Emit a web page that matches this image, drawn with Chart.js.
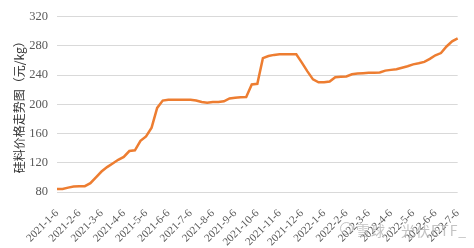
<!DOCTYPE html>
<html>
<head>
<meta charset="utf-8">
<script src="https://cdn.jsdelivr.net/npm/chart.js@4"></script>
<style>
  body { margin: 0; background: #fff; }
  #wrap { position: relative; width: 474px; height: 248px; }
  #mark { position: absolute; left: 356px; top: 220px; font: 14px "Noto Sans CJK SC"; color: rgba(170,170,170,0.7); letter-spacing: 1px; }
  #logo { position: absolute; left: 340px; top: 222px; width: 11px; height: 11px; border: 1.5px solid rgba(170,170,170,0.7); border-radius: 50%; }
</style>
</head>
<body>
<div id="wrap">
  <canvas id="chart" width="474" height="248"></canvas>
  <div id="logo"></div>
  <div id="mark">雪球：光伏ETF_</div>
</div>
<script>
const months = ['2021-1-6', '2021-2-6', '2021-3-6', '2021-4-6', '2021-5-6', '2021-6-6', '2021-7-6',
    '2021-8-6', '2021-9-6', '2021-10-6', '2021-11-6', '2021-12-6', '2022-1-6', '2022-2-6',
    '2022-3-6', '2022-4-6', '2022-5-6', '2022-6-6', '2022-7-6'];

// roughly weekly readings, 4 per month
const prices = [84, 84, 86, 87.5, 88, 88, 92, 100, 108, 114, 119, 124, 128, 136, 137, 150,
    156, 168, 195, 205, 206, 206, 206, 206, 206, 205, 203, 202, 203, 203, 204, 208,
    209, 209.5, 210, 227, 228, 263, 266, 267.5, 268.3, 268.3, 268.3, 268.3, 257, 245,
    234, 230, 230, 231, 237, 237.7, 238, 241, 242, 242.5, 243, 243, 243.5, 246, 247,
    248, 250, 252, 254.5, 256, 258, 262, 267, 270, 279, 286, 290];

const yTicks = [80, 120, 160, 200, 240, 280, 320];

const labels = prices.map((p, i) => (i % 4 === 0 ? months[i / 4] : ''));

const ctx = document.getElementById('chart');
new Chart(ctx, {
    type: 'line',
    data: {
        labels: labels,
        datasets: [{
            label: '硅料价格',
            data: prices,
            borderColor: '#ED7D31',
            borderWidth: 2.5,
            pointRadius: 0,
            tension: 0,
        }]
    },
    options: {
        responsive: false,
        animation: false,
        layout: { padding: { top: 8, right: 8, left: 0, bottom: 0 } },
        plugins: {
            legend: { display: false },
            tooltip: { enabled: false }
        },
        scales: {
            x: {
                grid: { display: false },
                border: { display: false },
                ticks: {
                    autoSkip: false,
                    maxRotation: 45,
                    minRotation: 45,
                    padding: 7,
                    color: '#595959',
                    font: { family: 'Liberation Serif', size: 11 }
                },
                afterFit: scale => { scale.height = 56; }
            },
            y: {
                min: yTicks[0],
                max: yTicks[yTicks.length - 1],
                afterBuildTicks: scale => { scale.ticks = yTicks.map(v => ({ value: v })); },
                grid: { color: '#d9d9d9', lineWidth: 1, drawTicks: false },
                border: { display: false },
                ticks: {
                    padding: 9,
                    color: '#595959',
                    font: { family: 'Liberation Serif', size: 12.5 }
                },
                title: {
                    display: true,
                    text: '硅料价格走势图（元/kg）',
                    color: '#333333',
                    padding: { top: 12, bottom: 0 },
                    font: { family: 'Noto Sans CJK SC', size: 12 }
                },
                afterFit: scale => { scale.width = 57; }
            }
        }
    }
});
</script>
</body>
</html>
